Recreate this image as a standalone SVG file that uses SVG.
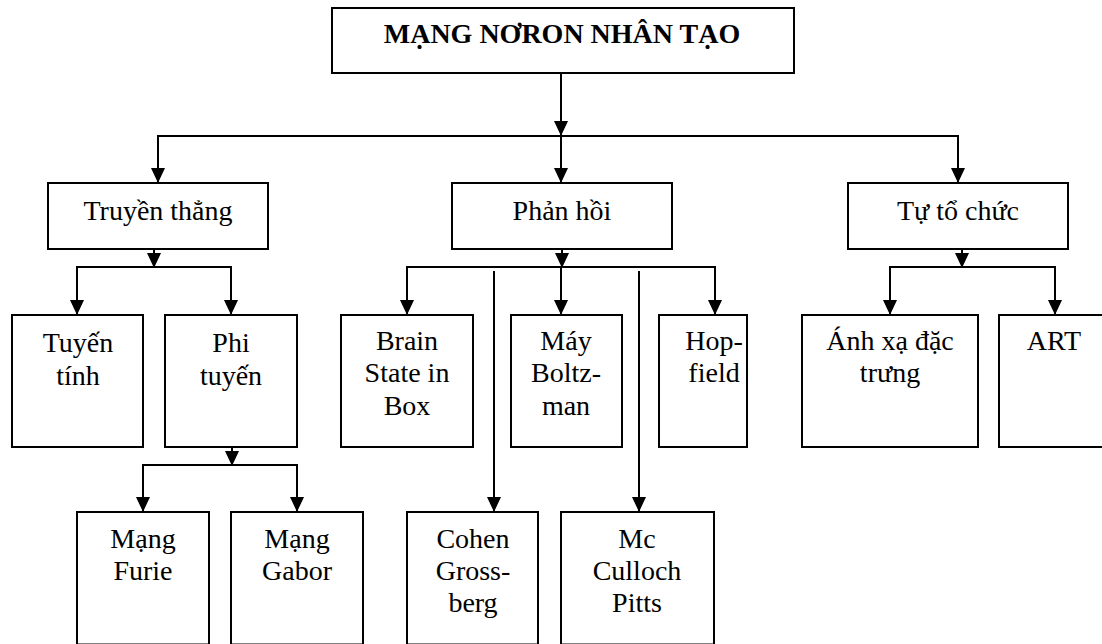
<svg xmlns="http://www.w3.org/2000/svg" width="1102" height="644" viewBox="0 0 1102 644">
<defs>
<style>
rect.box { fill: #fff; stroke: #000; stroke-width: 2; }
text { font-family: "Liberation Serif", "Times New Roman", Tinos, "DejaVu Serif", serif; font-size: 28px; fill: #000; text-anchor: middle; }
text.title { font-weight: bold; }
#connectors line { stroke: #000; stroke-width: 2; fill: none; }
</style>
<marker id="arr" viewBox="0 0 15 14" refX="15" refY="7" markerWidth="15" markerHeight="14" markerUnits="userSpaceOnUse" orient="auto">
<path d="M0,0 L15,7 L0,14 z" fill="#000"/>
</marker>
</defs>
<rect width="1102" height="644" fill="#fff"/>

<g id="connectors">
<line x1="561" y1="73" x2="561" y2="136" marker-end="url(#arr)"/>
<line x1="157" y1="136" x2="959" y2="136"/>
<line x1="158" y1="136" x2="158" y2="183" marker-end="url(#arr)"/>
<line x1="561" y1="136" x2="561" y2="183" marker-end="url(#arr)"/>
<line x1="958" y1="136" x2="958" y2="183" marker-end="url(#arr)"/>

<line x1="154" y1="249" x2="154" y2="268" marker-end="url(#arr)"/>
<line x1="76" y1="267" x2="232" y2="267"/>
<line x1="77" y1="267" x2="77" y2="315" marker-end="url(#arr)"/>
<line x1="231" y1="267" x2="231" y2="315" marker-end="url(#arr)"/>

<line x1="562" y1="249" x2="562" y2="268" marker-end="url(#arr)"/>
<line x1="406" y1="267" x2="716" y2="267"/>
<line x1="407" y1="267" x2="407" y2="315" marker-end="url(#arr)"/>
<line x1="561" y1="267" x2="561" y2="315" marker-end="url(#arr)"/>
<line x1="715" y1="267" x2="715" y2="315" marker-end="url(#arr)"/>
<line x1="494" y1="271" x2="494" y2="512" marker-end="url(#arr)"/>
<line x1="639" y1="271" x2="639" y2="512" marker-end="url(#arr)"/>

<line x1="962" y1="249" x2="962" y2="268" marker-end="url(#arr)"/>
<line x1="889" y1="267" x2="1056" y2="267"/>
<line x1="890" y1="267" x2="890" y2="315" marker-end="url(#arr)"/>
<line x1="1055" y1="267" x2="1055" y2="315" marker-end="url(#arr)"/>

<line x1="232" y1="447" x2="232" y2="466" marker-end="url(#arr)"/>
<line x1="142" y1="465" x2="298" y2="465"/>
<line x1="143" y1="465" x2="143" y2="512" marker-end="url(#arr)"/>
<line x1="297" y1="465" x2="297" y2="512" marker-end="url(#arr)"/>
</g>

<g id="root">
<rect class="box" x="332" y="8" width="462" height="65"/>
<text class="title" x="562" y="43">MẠNG NƠRON NHÂN TẠO</text>
</g>

<g id="truyen-thang">
<rect class="box" x="48" y="183" width="220" height="66"/>
<text x="158" y="220">Truyền thẳng</text>
</g>
<g id="phan-hoi">
<rect class="box" x="452" y="183" width="220" height="66"/>
<text x="562" y="220">Phản hồi</text>
</g>
<g id="tu-to-chuc">
<rect class="box" x="848" y="183" width="220" height="66"/>
<text x="958" y="220">Tự tổ chức</text>
</g>

<g id="tuyen-tinh">
<rect class="box" x="12" y="315" width="131" height="132"/>
<text x="78" y="352">Tuyến</text>
<text x="78" y="385">tính</text>
</g>
<g id="phi-tuyen">
<rect class="box" x="165" y="315" width="132" height="132"/>
<text x="231" y="352">Phi</text>
<text x="231" y="385">tuyến</text>
</g>
<g id="brain">
<rect class="box" x="341" y="315" width="132" height="132"/>
<text x="407" y="350">Brain</text>
<text x="407" y="382">State in</text>
<text x="407" y="415">Box</text>
</g>
<g id="boltzman">
<rect class="box" x="511" y="315" width="111" height="132"/>
<text x="566" y="350">Máy</text>
<text x="566" y="382">Boltz-</text>
<text x="566" y="415">man</text>
</g>
<g id="hopfield">
<rect class="box" x="659" y="315" width="88" height="132"/>
<text x="714" y="350">Hop-</text>
<text x="714" y="382">field</text>
</g>
<g id="anh-xa">
<rect class="box" x="802" y="315" width="176" height="132"/>
<text x="890" y="350">Ánh xạ đặc</text>
<text x="890" y="382">trưng</text>
</g>
<g id="art">
<rect class="box" x="999" y="315" width="112" height="132"/>
<text x="1054" y="350">ART</text>
</g>

<g id="furie">
<rect class="box" x="77" y="512" width="132" height="132.5"/>
<text x="143" y="548">Mạng</text>
<text x="143" y="580">Furie</text>
</g>
<g id="gabor">
<rect class="box" x="231" y="512" width="132" height="132.5"/>
<text x="297" y="548">Mạng</text>
<text x="297" y="580">Gabor</text>
</g>
<g id="cohen">
<rect class="box" x="407" y="512" width="131" height="132.5"/>
<text x="473" y="548">Cohen</text>
<text x="473" y="580">Gross-</text>
<text x="473" y="612">berg</text>
</g>
<g id="mcculloch">
<rect class="box" x="561" y="512" width="153" height="132.5"/>
<text x="637" y="548">Mc</text>
<text x="637" y="580">Culloch</text>
<text x="637" y="612">Pitts</text>
</g>
</svg>
